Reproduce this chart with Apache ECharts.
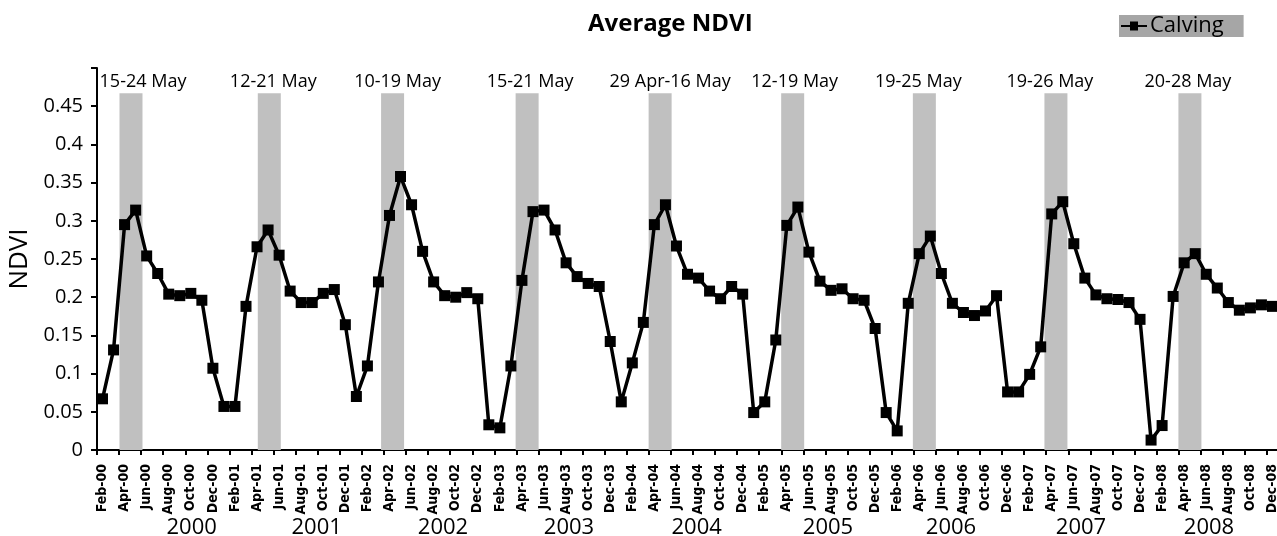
<!DOCTYPE html>
<html>
<head>
<meta charset="utf-8">
<script src="https://cdn.jsdelivr.net/npm/echarts@6/dist/echarts.min.js"></script>
<style>
html,body{margin:0;padding:0;background:#fff;}
#chart{width:1277px;height:536px;}
</style>
</head>
<body>
<div id="chart"></div>
<script>
// ---- Data ----
const monthNames = ['Jan','Feb','Mar','Apr','May','Jun','Jul','Aug','Sep','Oct','Nov','Dec'];
const yearLabels = ['2000','2001','2002','2003','2004','2005','2006','2007','2008'];

// NDVI, monthly (2000 starts in Feb)
const ndvi2000 = [0.067,0.131,0.295,0.314,0.254,0.231,0.204,0.202,0.205,0.196,0.107];
const ndvi2001 = [0.057,0.057,0.188,0.266,0.288,0.255,0.208,0.193,0.193,0.205,0.210,0.164];
const ndvi2002 = [0.070,0.110,0.220,0.307,0.358,0.321,0.260,0.220,0.202,0.200,0.206,0.198];
const ndvi2003 = [0.033,0.029,0.110,0.222,0.312,0.314,0.288,0.245,0.227,0.218,0.214,0.142];
const ndvi2004 = [0.063,0.114,0.167,0.295,0.321,0.267,0.230,0.225,0.208,0.198,0.214,0.204];
const ndvi2005 = [0.049,0.063,0.144,0.294,0.318,0.259,0.221,0.209,0.211,0.198,0.196,0.159];
const ndvi2006 = [0.049,0.025,0.192,0.257,0.280,0.231,0.192,0.180,0.176,0.182,0.202,0.076];
const ndvi2007 = [0.076,0.099,0.135,0.309,0.325,0.270,0.225,0.203,0.198,0.197,0.193,0.171];
const ndvi2008 = [0.013,0.032,0.201,0.245,0.257,0.230,0.212,0.193,0.183,0.186,0.190,0.188];

// Calving periods: labels, centre (in months from Feb-00 start), bar height
const calvingLabels = ['15-24 May','12-21 May','10-19 May','15-21 May','29 Apr-16 May','12-19 May','19-25 May','19-26 May','20-28 May'];
const calvingPos = [3.08,15.61,26.78,38.97,51.02,63.03,74.96,86.88,99.02];
const calvingTop = 0.467;
const calvingLabelShift = [12,4,5,3,10,2,-6,-6,-2];

// ---- Build ----
const months = [];
for (let y = 2000; y <= 2008; y++) {
  for (let m = (y === 2000 ? 1 : 0); m < 12; m++) {
    months.push(monthNames[m] + '-' + String(y).slice(2));
  }
}
const ndvi = [].concat(ndvi2000, ndvi2001, ndvi2002, ndvi2003, ndvi2004, ndvi2005, ndvi2006, ndvi2007, ndvi2008);

const calvingData = calvingPos.map((p, i) => ({
  value: [p, calvingTop],
  label: { offset: [calvingLabelShift[i], 0] }
}));

const yearX = [191.7, 316.7, 443, 569, 696.7, 828, 951, 1081, 1209];

const chart = echarts.init(document.getElementById('chart'), null, {renderer: 'canvas'});
const baseFont = "'Open Sans', 'Noto Sans', sans-serif";

chart.setOption({
  animation: false,
  backgroundColor: '#fff',
  textStyle: { fontFamily: baseFont, color: '#000' },
  title: {
    text: 'Average NDVI',
    left: 583, top: 7,
    textStyle: { fontFamily: baseFont, fontSize: 24, fontWeight: 'bold', color: '#000' }
  },
  legend: {
    left: 1119, top: 15,
    backgroundColor: '#a6a6a6',
    padding: [0, 20, 0, 2],
    itemWidth: 26, itemHeight: 9, itemGap: 4,
    selectedMode: false,
    textStyle: { fontFamily: baseFont, fontSize: 22, color: '#000', padding: [0,0,0,-2] },
    data: [{
      name: 'Calving',
      icon: 'path://M0,3.6H9V0H17V3.6H26V5.4H17V9H9V5.4H0Z',
      itemStyle: { color: '#000' }
    }]
  },
  grid: { left: 97, top: 68, width: 1181, height: 382, containLabel: false, outerBoundsMode: 'none' },
  xAxis: [{
    type: 'category',
    data: months,
    boundaryGap: true,
    axisLine: { lineStyle: { color: '#000', width: 2 } },
    axisTick: { show: true, interval: 1, length: 5, lineStyle: { color: '#000', width: 2 } },
    axisLabel: {
      interval: 1, rotate: 90, margin: 14,
      padding: [11, 0, 0, 0],
      fontFamily: "'Liberation Sans Narrow', 'DejaVu Sans Condensed', sans-serif",
      fontWeight: 'bold', fontSize: 14, color: '#000'
    },
    splitLine: { show: false }
  }, {
    type: 'value', min: 0, max: months.length, show: false
  }],
  yAxis: {
    type: 'value', min: 0, max: 0.5, interval: 0.05,
    name: 'NDVI', nameLocation: 'middle', nameGap: 62,
    nameTextStyle: { fontFamily: baseFont, fontSize: 26, color: '#000' },
    axisLine: { show: true, lineStyle: { color: '#000', width: 2 } },
    axisTick: { show: true, length: 6, lineStyle: { color: '#000', width: 2 } },
    axisLabel: {
      margin: 14, fontSize: 20, color: '#000', fontFamily: baseFont,
      formatter: v => (Math.abs(v - 0.5) < 1e-9 ? '' : String(+v.toFixed(2)))
    },
    splitLine: { show: false }
  },
  graphic: yearX.map((x, i) => ({
    type: 'text', x: x, y: 528,
    style: { text: yearLabels[i], fill: '#000', font: '22px ' + baseFont, textAlign: 'center', textVerticalAlign: 'middle' }
  })),
  series: [{
    name: 'Calving',
    type: 'bar',
    xAxisIndex: 1,
    data: calvingData,
    barWidth: 23,
    itemStyle: { color: '#c0c0c0' },
    label: {
      show: true, position: 'top', distance: 2,
      formatter: p => calvingLabels[p.dataIndex],
      fontFamily: baseFont, fontSize: 18, color: '#000'
    },
    z: 1
  }, {
    name: 'NDVI',
    type: 'line',
    data: ndvi,
    showAllSymbol: true,
    symbol: 'rect', symbolSize: 11,
    lineStyle: { color: '#000', width: 3.5 },
    itemStyle: { color: '#000' },
    z: 3
  }]
});
</script>
</body>
</html>
